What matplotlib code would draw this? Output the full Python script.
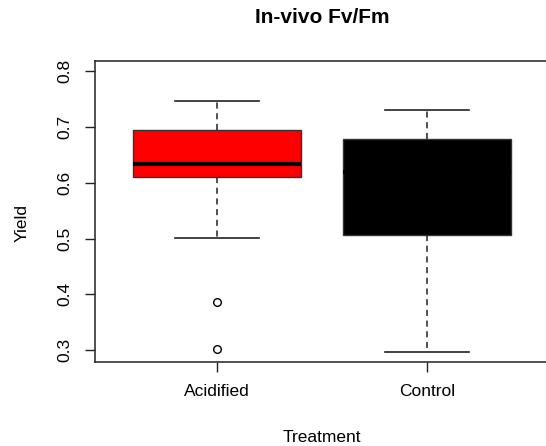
import matplotlib.pyplot as plt

# data
treatments = ['Acidified', 'Control']
whisker_low = [0.501, 0.296]
q1 = [0.611, 0.506]
medians = [0.633, 0.620]
q3 = [0.694, 0.678]
whisker_high = [0.746, 0.730]
outliers = [[0.386, 0.302], []]
box_colors = ['#ff0000', '#000000']

plt.rcParams['font.family'] = ['Liberation Sans', 'DejaVu Sans']

fig = plt.figure(figsize=(5.46, 4.46), dpi=100)
ax = fig.add_axes([0.1734, 0.1883, 0.8316, 0.6756])

stats = []
for i, name in enumerate(treatments):
    stats.append({
        'label': name,
        'whislo': whisker_low[i], 'q1': q1[i], 'med': medians[i],
        'q3': q3[i], 'whishi': whisker_high[i], 'fliers': outliers[i],
    })

bp = ax.bxp(stats, positions=[1, 2], widths=0.8, capwidths=0.4,
            patch_artist=True, showfliers=True,
            boxprops=dict(edgecolor='#333333', linewidth=1.0),
            whiskerprops=dict(color='#222222', linewidth=1.1, linestyle=(0, (4, 3))),
            capprops=dict(color='#222222', linewidth=1.2),
            medianprops=dict(color='black', linewidth=3.0, solid_capstyle='butt'),
            flierprops=dict(marker='o', markerfacecolor='white',
                            markeredgecolor='black', markersize=5.5, markeredgewidth=1.0))
for patch, c in zip(bp['boxes'], box_colors):
    patch.set_facecolor(c)
# keep the median inside the box outline
for med, patch in zip(bp['medians'], bp['boxes']):
    med.set_zorder(patch.get_zorder() + 0.1)
    med.set_clip_path(patch)

ax.set_xlim(0.42, 2.58)
ax.set_ylim(0.2785, 0.819)
ax.set_yticks([0.3, 0.4, 0.5, 0.6, 0.7, 0.8])
ax.set_yticklabels(['0.3', '0.4', '0.5', '0.6', '0.7', '0.8'], rotation=90, va='center')
ax.set_xticks([1, 2])
ax.set_xticklabels(treatments)

for sp in ax.spines.values():
    sp.set_color('#222222')
    sp.set_linewidth(1.1)
ax.tick_params(axis='both', length=7, width=1.0, color='#222222',
               labelsize=12.5, pad=9)

fig.text(0.5895, 0.96, 'In-vivo Fv/Fm', ha='center', va='center',
         fontsize=15, fontweight='bold')
fig.text(0.5895, 0.02, 'Treatment', ha='center', va='center', fontsize=12.5)
fig.text(0.04, 0.5, 'Yield', ha='center', va='center', rotation=90, fontsize=12.5)

fig.savefig('out.png', dpi=100)
